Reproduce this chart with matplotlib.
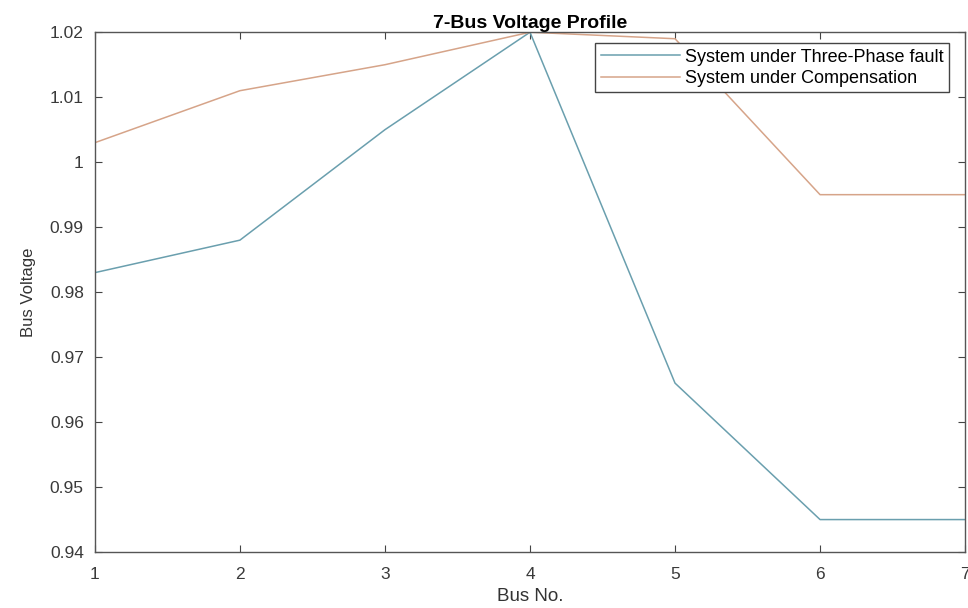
import matplotlib.pyplot as plt

plt.rcParams['font.family'] = ['Liberation Sans', 'DejaVu Sans']

bus_no = [1, 2, 3, 4, 5, 6, 7]
v_fault = [0.983, 0.988, 1.005, 1.020, 0.966, 0.945, 0.945]
v_comp = [1.003, 1.011, 1.015, 1.020, 1.019, 0.995, 0.995]
y_ticks = [0.94, 0.95, 0.96, 0.97, 0.98, 0.99, 1.0, 1.01, 1.02]
y_labels = ['0.94', '0.95', '0.96', '0.97', '0.98', '0.99', '1', '1.01', '1.02']


def main():
    fig = plt.figure(figsize=(9.68, 6.08), dpi=100)
    ax = fig.add_axes([0.098, 0.092, 0.899, 0.855])

    ax.plot(bus_no, v_fault, color='#6a9fae', lw=1.1, label='System under Three-Phase fault')
    ax.plot(bus_no, v_comp, color='#d6a489', lw=1.1, label='System under Compensation')

    ax.set_xlim(1, 7)
    ax.set_ylim(0.94, 1.02)
    ax.set_xticks(bus_no)
    ax.set_yticks(y_ticks)
    ax.set_yticklabels(y_labels)

    for s in ax.spines.values():
        s.set_color('#555555')
        s.set_linewidth(1.0)
    ax.tick_params(direction='in', top=True, right=True, length=5,
                   color='#444444', labelsize=12.5, labelcolor='#3a3a3a')
    ax.tick_params(axis='x', pad=11)
    ax.tick_params(axis='y', pad=8)

    ax.set_title('7-Bus Voltage Profile', fontsize=14, fontweight='bold', pad=3)
    ax.set_xlabel('Bus No.', fontsize=13.5, color='#333333', labelpad=4)
    ax.set_ylabel('Bus Voltage', fontsize=12, color='#333333', labelpad=10)

    leg = ax.legend(loc='upper right', bbox_to_anchor=(0.982, 0.979), borderaxespad=0,
                    fontsize=13, handlelength=4.4, handletextpad=0.3, borderpad=0.3,
                    labelspacing=0.25, fancybox=False, framealpha=1)
    leg.get_frame().set_edgecolor('#444444')
    leg.get_frame().set_linewidth(1.0)

    fig.savefig('out.png', dpi=100)


if __name__ == '__main__':
    main()
